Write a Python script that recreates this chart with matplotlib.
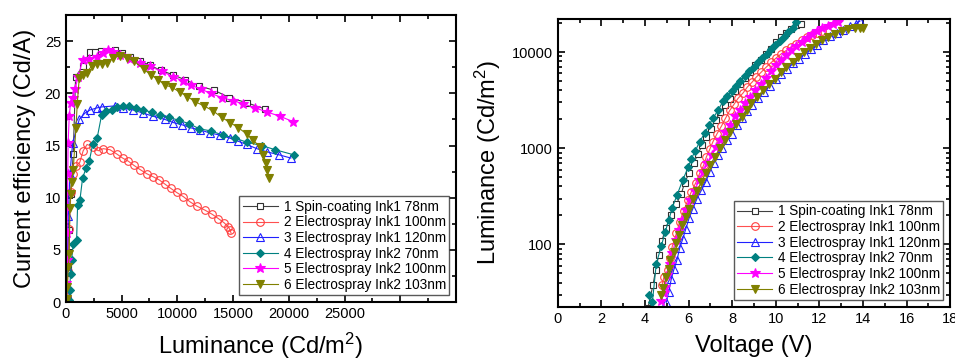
import matplotlib.pyplot as plt
from matplotlib.ticker import MultipleLocator, FixedLocator, NullFormatter, LogLocator
import numpy as np

plt.rcParams['font.family'] = ['Liberation Sans', 'DejaVu Sans']
plt.rcParams['mathtext.default'] = 'regular'

labels = ["1 Spin-coating Ink1 78nm", "2 Electrospray Ink1 100nm",
          "3 Electrospray Ink1 120nm", "4 Electrospray Ink2 70nm",
          "5 Electrospray Ink2 100nm", "6 Electrospray Ink2 103nm"]

# ---- left panel: current efficiency vs luminance ----
ce_lum_1 = [60, 150, 240, 420, 660, 870, 1500, 2150, 2600, 3140, 4400, 5000, 5750, 6650,
            7550, 8500, 9580, 10690, 11980, 13290, 14670, 16230, 17870]
ce_val_1 = [0.8, 3.4, 6.9, 10.4, 14.2, 21.6, 22.6, 24.0, 24.0, 24.1, 24.2, 23.9, 23.5, 23.1,
            22.7, 22.2, 21.8, 21.3, 20.7, 20.3, 19.6, 19.1, 18.5]

ce_lum_2 = [100, 200, 300, 450, 650, 900, 1250, 1550, 1900, 2400, 2900, 3350, 3950, 4550,
            5090, 5600, 6100, 6650, 7250, 7840, 8380, 8890, 9400, 9940, 10540, 11140,
            11740, 12490, 13140, 13680, 14190, 14580, 14730, 14820]
ce_val_2 = [0.5, 3.0, 7.0, 10.5, 12.3, 13.0, 13.4, 14.5, 15.1, 14.9, 14.5, 14.7, 14.6, 14.2,
            13.8, 13.5, 13.1, 12.7, 12.3, 12.0, 11.7, 11.3, 10.9, 10.5, 10.1, 9.6,
            9.2, 8.8, 8.4, 8.0, 7.6, 7.2, 6.9, 6.6]

ce_lum_3 = [60, 130, 210, 360, 600, 1200, 1700, 2150, 2750, 3200, 4400, 5150, 6050, 6950,
            7840, 8890, 9640, 10390, 11200, 12040, 12930, 13830, 14730, 15480, 16230,
            17130, 18020, 19160, 20180]
ce_val_3 = [0.8, 3.5, 8.2, 12.3, 15.2, 17.5, 18.1, 18.4, 18.6, 18.7, 18.8, 18.6, 18.4, 18.1,
            17.8, 17.5, 17.2, 17.0, 16.7, 16.5, 16.2, 16.0, 15.7, 15.4, 15.1,
            14.7, 14.4, 14.1, 13.8]

ce_lum_4 = [250, 330, 420, 510, 660, 960, 1050, 1260, 1500, 1800, 2100, 2400, 2800, 3200,
            3590, 4100, 4550, 5150, 5690, 6290, 6950, 7690, 8440, 9280, 10180, 11050,
            11980, 13020, 14070, 15180, 16290, 17570, 18770, 20480]
ce_val_4 = [0.2, 1.2, 2.7, 4.0, 5.6, 5.9, 9.3, 9.8, 11.9, 12.8, 13.5, 15.1, 15.7, 17.9,
            18.3, 18.4, 18.7, 18.8, 18.8, 18.6, 18.4, 18.2, 17.9, 17.7, 17.4, 17.1,
            16.6, 16.4, 16.0, 15.7, 15.3, 15.0, 14.6, 14.1]

ce_lum_5 = [40, 70, 100, 140, 170, 200, 300, 420, 600, 810, 1110, 1500, 2100, 2750, 3350,
            3800, 4250, 4850, 5750, 6650, 7540, 8590, 9640, 10480, 11200, 12130, 13000,
            13980, 14970, 15930, 17010, 18080, 19220, 20360]
ce_val_5 = [1.8, 4.0, 6.6, 9.1, 12.3, 15.2, 17.8, 19.1, 19.6, 20.4, 21.6, 23.2, 23.3, 23.5,
            23.9, 24.2, 24.0, 23.7, 23.3, 22.9, 22.6, 22.1, 21.6, 21.2, 20.8, 20.4, 20.0,
            19.6, 19.3, 19.0, 18.6, 18.2, 17.8, 17.3]

ce_lum_6 = [60, 120, 210, 300, 360, 420, 510, 660, 900, 1020, 1200, 1500, 1860, 2300, 2750,
            3200, 3650, 4250, 4850, 5450, 6110, 7000, 7600, 8290, 8890, 9490, 10240,
            10900, 11590, 12400, 13230, 13980, 14730, 15480, 16230, 16830, 17370,
            17720, 17960, 18080, 18200]
ce_val_6 = [0.3, 1.4, 3.4, 4.6, 9.0, 10.4, 11.5, 12.7, 16.7, 19.0, 21.5, 21.8, 22.0, 22.6,
            22.8, 22.8, 22.9, 23.4, 23.6, 23.4, 23.1, 22.3, 21.8, 21.3, 20.8, 20.6, 20.1,
            19.7, 19.2, 18.8, 18.3, 17.7, 17.2, 16.7, 16.1, 15.5, 14.9,
            14.1, 13.3, 12.7, 11.9]

# ---- right panel: luminance vs voltage ----
v_1 = [4.14, 4.37, 4.49, 4.63, 4.78, 4.95, 5.21, 5.44, 5.67, 5.82, 6.02, 6.23, 6.43, 6.62,
       6.82, 7.02, 7.25, 7.46, 7.66, 7.89, 8.12, 8.35, 8.58, 8.81, 9.05, 9.30, 9.54,
       9.76, 10.03, 10.26, 10.49, 10.72, 10.95, 11.14]
l_1 = [22, 38, 54, 77, 109, 148, 201, 261, 338, 437, 548, 694, 870, 1070,
       1310, 1600, 1980, 2390, 2810, 3220, 3970, 4690, 5410, 6200, 7270, 8330, 9610,
       10800, 12700, 14300, 15900, 17500, 19000, 19700]

v_2 = [4.79, 4.87, 5.06, 5.16, 5.25, 5.44, 5.59, 5.78, 5.97, 6.13, 6.33, 6.51, 6.69, 6.82,
       6.97, 7.12, 7.31, 7.51, 7.69, 7.89, 8.09, 8.27, 8.50, 8.70, 8.92, 9.11, 9.34,
       9.57, 9.80, 10.03, 10.26, 10.49, 10.72, 10.95, 11.18, 11.41, 11.64, 11.87, 12.1]
l_2 = [38, 46, 54, 73, 95, 130, 172, 225, 290, 353, 437, 548, 665, 815,
       970, 1170, 1420, 1700, 2040, 2470, 2870, 3300, 3750, 4340, 4880, 5500, 6200,
       6990, 7810, 8730, 9610, 10400, 11300, 12200, 13200, 14300, 15000, 15700, 16400]

v_3 = [4.98, 5.09, 5.21, 5.33, 5.47, 5.59, 5.74, 5.87, 6.02, 6.20, 6.39, 6.59, 6.79, 6.97,
       7.15, 7.35, 7.55, 7.77, 7.97, 8.20, 8.43, 8.66, 8.93, 9.19, 9.45, 9.73, 10.00,
       10.26, 10.52, 10.80, 11.08, 11.34, 11.61, 11.87, 12.18, 12.48, 12.79, 13.10,
       13.40, 13.68, 13.86]
l_3 = [25, 32, 44, 55, 69, 91, 115, 144, 186, 236, 300, 366, 448, 565,
       694, 850, 995, 1210, 1420, 1740, 2040, 2410, 2810, 3300, 3830, 4450, 5200,
       5900, 6700, 7600, 8550, 9600, 10700, 11700, 13200, 14500, 15900, 17000,
       18500, 19700, 21000]

v_4 = [4.18, 4.34, 4.52, 4.75, 4.93, 5.09, 5.25, 5.48, 5.74, 5.99, 6.13, 6.31, 6.51, 6.74,
       6.94, 7.12, 7.35, 7.58, 7.78, 7.98, 8.18, 8.38, 8.58, 8.78, 8.98, 9.18, 9.38,
       9.58, 9.78, 9.98, 10.18, 10.38, 10.58, 10.78, 10.95]
l_4 = [30, 25, 63, 96, 135, 178, 240, 330, 470, 640, 780, 940, 1170, 1440,
       1740, 2050, 2470, 3080, 3480, 3950, 4450, 5000, 5650, 6300, 7000, 7800, 8700,
       9600, 10700, 11800, 13000, 14400, 16000, 17800, 20500]

v_5 = [4.75, 4.86, 4.93, 5.02, 5.13, 5.25, 5.41, 5.56, 5.71, 5.90, 6.08, 6.28, 6.48, 6.66,
       6.86, 7.08, 7.28, 7.46, 7.69, 7.89, 8.12, 8.35, 8.58, 8.81, 9.05, 9.30, 9.54,
       9.79, 10.03, 10.26, 10.49, 10.72, 10.95, 11.18, 11.41, 11.64, 11.87, 12.10,
       12.40, 12.64, 12.87]
l_5 = [26, 31, 36, 48, 63, 81, 110, 141, 178, 230, 288, 362, 468, 562,
       694, 860, 1030, 1210, 1470, 1740, 2140, 2520, 2950, 3410, 4000, 4690, 5410,
       6360, 7270, 8170, 9330, 10400, 11500, 12700, 14100, 15500, 16700, 17800,
       18700, 19500, 20500]

v_6 = [4.75, 4.83, 4.98, 5.10, 5.16, 5.32, 5.44, 5.56, 5.71, 5.87, 6.02, 6.20, 6.39, 6.59,
       6.79, 7.00, 7.20, 7.43, 7.66, 7.92, 8.16, 8.43, 8.66, 8.88, 9.15, 9.42, 9.68,
       9.96, 10.22, 10.49, 10.77, 11.03, 11.29, 11.57, 11.84, 12.10, 12.41, 12.71,
       13.02, 13.33, 13.63, 13.86, 14.02]
l_6 = [30, 35, 46, 56, 69, 83, 104, 125, 160, 194, 236, 294, 360, 448,
       548, 665, 815, 995, 1210, 1470, 1780, 2130, 2520, 2950, 3410, 4000, 4600,
       5270, 6200, 6990, 7900, 8900, 10000, 11100, 12200, 13200, 14300, 15500,
       16600, 17300, 17800, 17900, 17900]

styles = [
    dict(color="#404040", marker="s", mfc="white", mec="#303030", ms=5),
    dict(color="#ff5050", marker="o", mfc="none", mec="#ff4040", ms=5.5),
    dict(color="#2020ff", marker="^", mfc="none", mec="#2020ff", ms=5.5),
    dict(color="#008080", marker="D", mfc="#008080", mec="#008080", ms=4.5),
    dict(color="#ff00ff", marker="*", mfc="#ff00ff", mec="#ff00ff", ms=7),
    dict(color="#808000", marker="v", mfc="#808000", mec="#808000", ms=6),
]

fig = plt.figure(figsize=(9.55, 3.6), dpi=100)
ax1 = fig.add_axes([0.069, 0.161, 0.4085, 0.797])
ax2 = fig.add_axes([0.584, 0.148, 0.411, 0.799])

left_data = [(ce_lum_1, ce_val_1), (ce_lum_2, ce_val_2), (ce_lum_3, ce_val_3),
             (ce_lum_4, ce_val_4), (ce_lum_5, ce_val_5), (ce_lum_6, ce_val_6)]
right_data = [(v_1, l_1), (v_2, l_2), (v_3, l_3), (v_4, l_4), (v_5, l_5), (v_6, l_6)]

for (x, y), st, lab in zip(left_data, styles, labels):
    ax1.plot(x, y, lw=0.8, mew=0.8, label=lab, **st)

for (x, y), st, lab in zip(right_data, styles, labels):
    ax2.plot(x, y, lw=0.8, mew=0.8, label=lab, **st)

# left axes
ax1.set_xlim(0, 35000)
ax1.set_ylim(0, 27.5)
ax1.set_xticks([0, 5000, 10000, 15000, 20000, 25000, 30000])
ax1.set_xticklabels(["0", "5000", "10000", "15000", "20000", "25000", ""])
ax1.xaxis.set_minor_locator(MultipleLocator(2500))
ax1.set_yticks([0, 5, 10, 15, 20, 25])
ax1.yaxis.set_minor_locator(MultipleLocator(2.5))
ax1.set_xlabel("Luminance (Cd/m$^2$)", fontsize=17, labelpad=7)
ax1.set_ylabel("Current efficiency (Cd/A)", fontsize=17, labelpad=6)

# right axes
ax2.set_yscale("log")
ax2.set_xlim(0, 18)
ax2.set_ylim(22.5, 22000)
ax2.set_xticks(range(0, 19, 2))
ax2.xaxis.set_minor_locator(MultipleLocator(1))
ax2.yaxis.set_major_locator(FixedLocator([100, 1000, 10000]))
ax2.set_yticklabels(["100", "1000", "10000"])
ax2.yaxis.set_minor_locator(LogLocator(base=10, subs=np.arange(2, 10)))
ax2.yaxis.set_minor_formatter(NullFormatter())
ax2.set_xlabel("Voltage (V)", fontsize=17, labelpad=7)
ax2.set_ylabel("Luminance (Cd/m$^2$)", fontsize=17, labelpad=6)

for ax in (ax1, ax2):
    for sp in ax.spines.values():
        sp.set_linewidth(1.5)
    ax.tick_params(which="both", direction="in", top=True, right=True, labelsize=10.5,
                   width=1.2)
    ax.tick_params(which="major", length=5)
    ax.tick_params(which="minor", length=3)
    leg = ax.legend(loc="lower right", fontsize=9.8, frameon=True, fancybox=False,
                    edgecolor="#303030", handlelength=2.6, handletextpad=0.4,
                    labelspacing=0.12, borderpad=0.25, borderaxespad=0.5)
    leg.get_frame().set_linewidth(1.0)

plt.savefig("out.png", dpi=100)
plt.close()
